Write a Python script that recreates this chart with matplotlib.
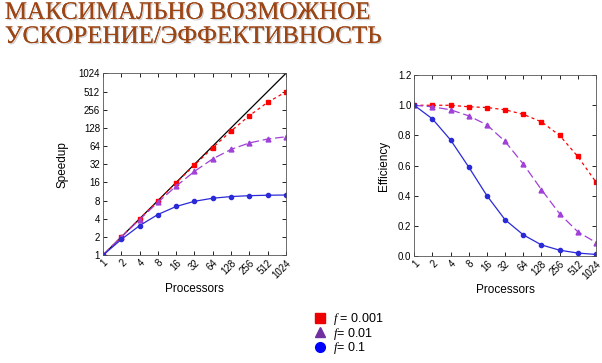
import matplotlib
matplotlib.use("Agg")
import matplotlib.pyplot as plt
import matplotlib.patheffects as pe
from matplotlib.lines import Line2D

# processors (log2 axis)
procs = [1, 2, 4, 8, 16, 32, 64, 128, 256, 512, 1024]
tick_labels = [str(p) for p in procs]

# speedup
speedup_001 = [1, 2.0, 3.99, 7.94, 15.8, 31.0, 60.2, 113.6, 204, 339, 506]
speedup_01 = [1, 1.98, 3.88, 7.48, 13.9, 24.4, 39.3, 56.4, 72.1, 83.8, 91.2]
speedup_1 = [1, 1.82, 3.08, 4.71, 6.4, 7.8, 8.77, 9.34, 9.66, 9.83, 9.91]

# efficiency
eff_001 = [1, 1.0, 1.0, 0.99, 0.985, 0.97, 0.94, 0.89, 0.80, 0.66, 0.49]
eff_01 = [1, 0.99, 0.97, 0.93, 0.87, 0.76, 0.61, 0.44, 0.28, 0.16, 0.089]
eff_1 = [1, 0.91, 0.77, 0.59, 0.40, 0.24, 0.14, 0.073, 0.038, 0.019, 0.0097]

speed_ticks = [1, 2, 4, 8, 16, 32, 64, 128, 256, 512, 1024]
eff_ticks = [0.0, 0.2, 0.4, 0.6, 0.8, 1.0, 1.2]

RED = "#ff0000"
PURPLE = "#a040d8"
BLUE = "#2a2ad8"

plt.rcParams['font.family'] = ['Liberation Sans', 'DejaVu Sans']
plt.rcParams['mathtext.fontset'] = 'custom'
plt.rcParams['mathtext.it'] = 'Liberation Serif:italic'

fig = plt.figure(figsize=(6.02, 3.63), dpi=100)

fig.text(0.008, 0.995, "МАКСИМАЛЬНО ВОЗМОЖНОЕ\nУСКОРЕНИЕ/ЭФФЕКТИВНОСТЬ",
         ha="left", va="top", fontsize=18, color="#9c4515",
         family="Liberation Serif", linespacing=1.12,
         path_effects=[pe.withSimplePatchShadow(offset=(1, -1), shadow_rgbFace="#b0b0b0", alpha=0.6),
                       pe.Normal()])


def style_axes(ax):
    ax.set_xscale("log", base=2)
    ax.set_xlim(1, 1024)
    ax.set_xticks(procs)
    ax.set_xticklabels(tick_labels, rotation=45, ha="right", rotation_mode="anchor",
                       fontsize=6.5)
    ax.minorticks_off()
    ax.tick_params(direction="in", top=True, right=True, length=3, width=0.6,
                   labelsize=7, pad=2)
    for s in ax.spines.values():
        s.set_linewidth(0.6)
        s.set_color("#555555")
    ax.set_xlabel("Processors", fontsize=8.5, labelpad=2)


# speedup
ax1 = fig.add_axes([0.171, 0.297, 0.304, 0.501])
ax1.plot(procs, procs, color="black", lw=0.9)
ax1.plot(procs, speedup_001, color=RED, ls=(0, (2.5, 2.5)), lw=0.9, marker="s", ms=3.5)
ax1.plot(procs, speedup_01, color=PURPLE, ls=(0, (7, 3)), lw=0.9, marker="^", ms=3.5)
ax1.plot(procs, speedup_1, color=BLUE, ls="-", lw=0.9, marker="o", ms=3)
style_axes(ax1)
ax1.set_yscale("log", base=2)
ax1.set_ylim(1, 1024)
ax1.set_yticks(speed_ticks)
ax1.set_yticklabels([str(t) for t in speed_ticks])
ax1.minorticks_off()
ax1.set_ylabel("Speedup", fontsize=8.5, labelpad=7)

# efficiency
ax2 = fig.add_axes([0.688, 0.295, 0.302, 0.498])
ax2.plot(procs, eff_001, color=RED, ls=(0, (2.5, 2.5)), lw=0.9, marker="s", ms=3.5)
ax2.plot(procs, eff_01, color=PURPLE, ls=(0, (7, 3)), lw=0.9, marker="^", ms=3.5)
ax2.plot(procs, eff_1, color=BLUE, ls="-", lw=0.9, marker="o", ms=3)
style_axes(ax2)
ax2.set_ylim(0, 1.2)
ax2.set_yticks(eff_ticks)
ax2.set_yticklabels([f"{t:.1f}" for t in eff_ticks])
ax2.set_ylabel("Efficiency", fontsize=8.5, labelpad=6)

handles = [
    Line2D([], [], ls="", marker="s", ms=7, color="#ee0000"),
    Line2D([], [], ls="", marker="^", ms=7, color="#7030a0"),
    Line2D([], [], ls="", marker="o", ms=7, color="#0000ff"),
]
labels = [r"$f$ = 0.001", r"$f$= 0.01", r"$f$= 0.1"]
fig.legend(handles, labels, loc="lower left", bbox_to_anchor=(0.508, -0.005),
           frameon=False, fontsize=9, handlelength=0.8, handletextpad=0.7,
           labelspacing=-0.12, borderpad=0.2)

fig.savefig("out.png", dpi=100)
